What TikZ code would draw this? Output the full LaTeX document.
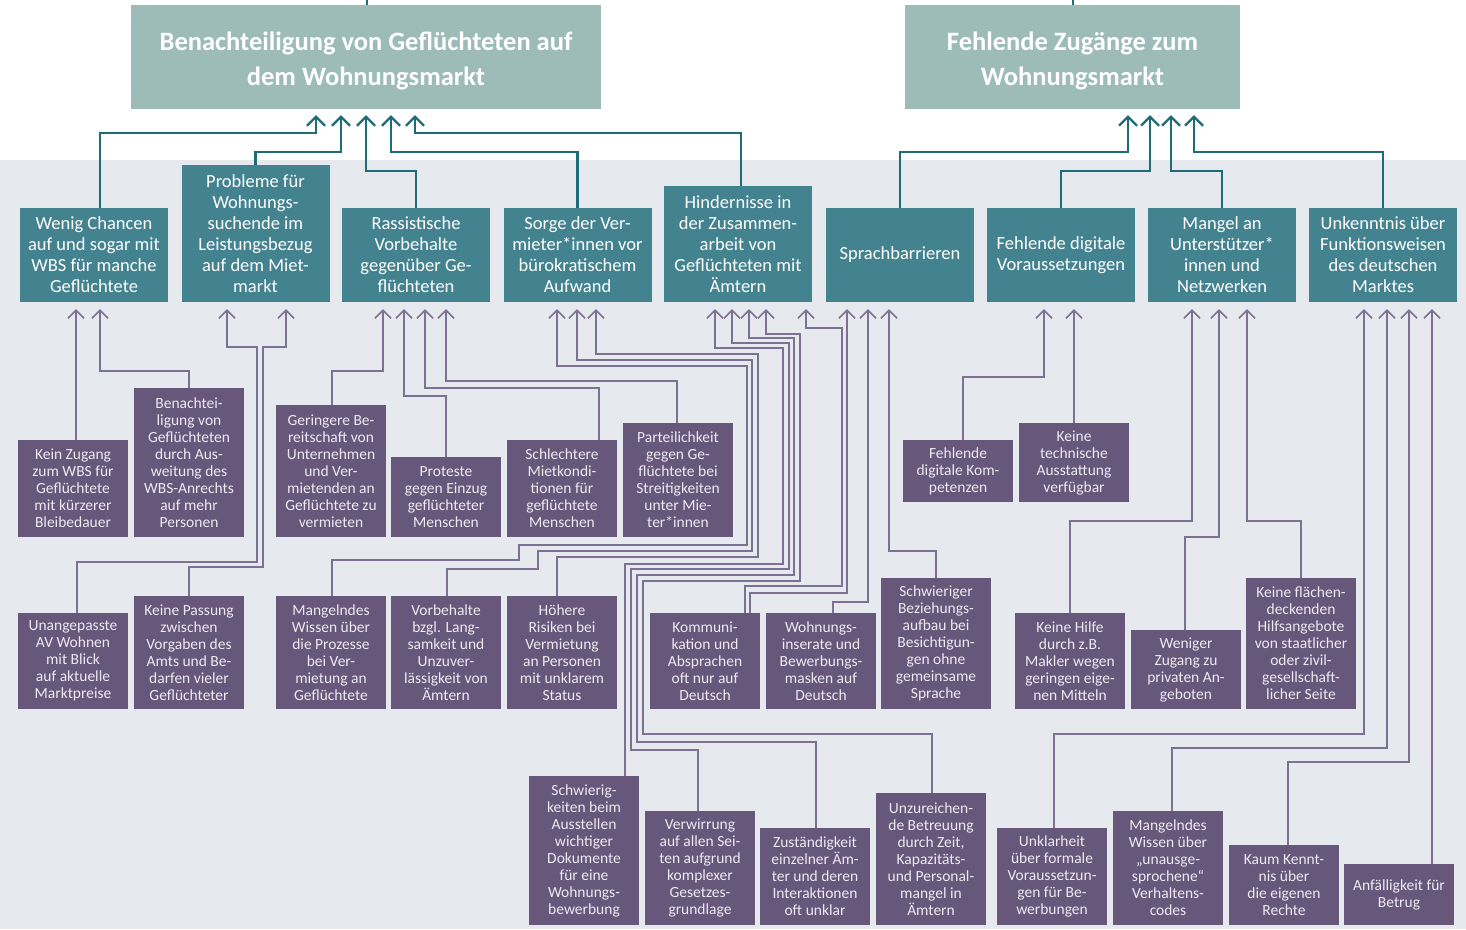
\documentclass[tikz,border=0pt]{standalone}
\usepackage{fontspec}
\setmainfont{Carlito}
\usetikzlibrary{arrows.meta}
\definecolor{topfill}{HTML}{9DBCB7}
\definecolor{tealfill}{HTML}{43828F}
\definecolor{purpfill}{HTML}{67577A}
\definecolor{bggray}{HTML}{E6E9EE}
\definecolor{tline}{HTML}{1F6B78}
\definecolor{pline}{HTML}{7E7093}
\definecolor{ptext}{HTML}{EEEAF2}
\begin{document}
\begin{tikzpicture}[x=1pt,y=-1pt,
 topbox/.style={fill=topfill, inner sep=0pt},
 toptext/.style={text=white, font=\fontsize{26.5}{35}\selectfont\bfseries, align=center, inner sep=0pt},
 tbox/.style={fill=tealfill, text=white, font=\fontsize{18.5}{21}\selectfont, align=center, inner sep=0pt, minimum width=148pt},
 pbox/.style={fill=purpfill, text=ptext, font=\fontsize{15.5}{17}\selectfont, align=center, inner sep=0pt, minimum width=110pt},
 tarr/.style={draw=tline, line width=2.2pt, -{Straight Barb[length=9pt,width=18pt]}, shorten >=6pt},
 tlin/.style={draw=tline, line width=2.2pt},
 parr/.style={draw=pline, line width=1.6pt, -{Straight Barb[length=8pt,width=16pt]}, shorten >=7pt}]
\useasboundingbox (0,0) rectangle (1466,929);
\fill[white] (0,0) rectangle (1466,929);
\fill[bggray] (0,160) rectangle (1466,929);

% top boxes
\node[topbox, minimum width=470pt, minimum height=104pt] (tA) at (366,57) {};
\node[toptext] (tAtext) at (366,61) {Benachteiligung von Geflüchteten auf\\dem Wohnungsmarkt};
\node[topbox, minimum width=335pt, minimum height=104pt] (tB) at (1072.5,57) {};
\node[toptext] (tBtext) at (1072.5,61) {Fehlende Zugänge zum\\Wohnungsmarkt};
\coordinate (topA) at (367,0);
\coordinate (topB) at (1073,0);
\draw[tlin] (tA.north -| 367,0) -- (topA);
\draw[tlin] (tB.north -| 1073,0) -- (topB);

% teal boxes
\node[tbox, minimum height=94pt] (wenig) at (94,255) {Wenig Chancen\\auf und sogar mit\\WBS für manche\\Geflüchtete};
\node[tbox, minimum height=137pt] (probl) at (255.5,233.5) {Probleme für\\Wohnungs-\\suchende im\\Leistungsbezug\\auf dem Miet-\\markt};
\node[tbox, minimum height=94pt] (rass) at (416,255) {Rassistische\\Vorbehalte\\gegenüber Ge-\\flüchteten};
\node[tbox, minimum height=94pt] (sorge) at (577.5,255) {Sorge der Ver-\\mieter*innen vor\\bürokratischem\\Aufwand};
\node[tbox, minimum height=116pt] (hind) at (738,244) {Hindernisse in\\der Zusammen-\\arbeit von\\Geflüchteten mit\\Ämtern};
\node[tbox, minimum height=94pt] (sprach) at (900,255) {Sprachbarrieren};
\node[tbox, minimum height=94pt] (digi) at (1061,255) {Fehlende digitale\\Voraussetzungen};
\node[tbox, minimum height=94pt] (mangel) at (1222,255) {Mangel an\\Unterstützer*\\innen und\\Netzwerken};
\node[tbox, minimum height=94pt] (unk) at (1383,255) {Unkenntnis über\\Funktionsweisen\\des deutschen\\Marktes};

% teal connectors
\draw[tarr] (wenig.north -| 100,0) |- (316,133) -- (tA.south -| 316,0);
\draw[tarr] (probl.north) |- (341,152) -- (tA.south -| 341,0);
\draw[tarr] (rass.north) |- (366,171) -- (tA.south -| 366,0);
\draw[tarr] (sorge.north) |- (391,152) -- (tA.south -| 391,0);
\draw[tarr] (hind.north -| 741,0) |- (415,133) -- (tA.south -| 415,0);
\draw[tarr] (sprach.north) |- (1128,152) -- (tB.south -| 1128,0);
\draw[tarr] (digi.north) |- (1150,171) -- (tB.south -| 1150,0);
\draw[tarr] (mangel.north) |- (1171,171) -- (tB.south -| 1171,0);
\draw[tarr] (unk.north) |- (1194,152) -- (tB.south -| 1194,0);

% purple boxes row A
\node[pbox, minimum height=97pt] (kein) at (73,488.5) {Kein Zugang\\zum WBS für\\Geflüchtete\\mit kürzerer\\Bleibedauer};
\node[pbox, minimum height=149pt] (benw) at (189,462.5) {Benachtei-\\ligung von\\Geflüchteten\\durch Aus-\\weitung des\\WBS-Anrechts\\auf mehr\\Personen};
\node[pbox, minimum height=132pt] (ger) at (331,471) {Geringere Be-\\reitschaft von\\Unternehmen\\und Ver-\\mietenden an\\Geflüchtete zu\\vermieten};
\node[pbox, minimum height=80pt] (prot) at (446,497) {Proteste\\gegen Einzug\\geflüchteter\\Menschen};
\node[pbox, minimum height=97pt] (schl) at (562,488.5) {Schlechtere\\Mietkondi-\\tionen für\\geflüchtete\\Menschen};
\node[pbox, minimum height=114pt] (part) at (678,480) {Parteilichkeit\\gegen Ge-\\flüchtete bei\\Streitigkeiten\\unter Mie-\\ter*innen};
\node[pbox, minimum height=62pt] (fdk) at (958,471) {Fehlende\\digitale Kom-\\petenzen};
\node[pbox, minimum height=79pt] (ktech) at (1074,462.5) {Keine\\technische\\Ausstattung\\verfügbar};

% row B
\node[pbox, minimum height=96pt] (unang) at (73,661) {Unangepasste\\AV Wohnen\\mit Blick\\auf aktuelle\\Marktpreise};
\node[pbox, minimum height=113pt] (pass) at (189,652.5) {Keine Passung\\zwischen\\Vorgaben des\\Amts und Be-\\darfen vieler\\Geflüchteter};
\node[pbox, minimum height=113pt] (mwp) at (331,652.5) {Mangelndes\\Wissen über\\die Prozesse\\bei Ver-\\mietung an\\Geflüchtete};
\node[pbox, minimum height=113pt] (vorb) at (446,652.5) {Vorbehalte\\bzgl. Lang-\\samkeit und\\Unzuver-\\lässigkeit von\\Ämtern};
\node[pbox, minimum height=113pt] (hoeh) at (562,652.5) {Höhere\\Risiken bei\\Vermietung\\an Personen\\mit unklarem\\Status};
\node[pbox, minimum height=96pt] (komm) at (705,661) {Kommuni-\\kation und\\Absprachen\\oft nur auf\\Deutsch};
\node[pbox, minimum height=96pt] (inser) at (821,661) {Wohnungs-\\inserate und\\Bewerbungs-\\masken auf\\Deutsch};
\node[pbox, minimum height=131pt] (bez) at (936,643.5) {Schwieriger\\Beziehungs-\\aufbau bei\\Besichtigun-\\gen ohne\\gemeinsame\\Sprache};
\node[pbox, minimum height=96pt] (hilfe) at (1070,661) {Keine Hilfe\\durch z.B.\\Makler wegen\\geringen eige-\\nen Mitteln};
\node[pbox, minimum height=79pt] (wenz) at (1186,669.5) {Weniger\\Zugang zu\\privaten An-\\geboten};
\node[pbox, minimum height=131pt] (flae) at (1301,643.5) {Keine flächen-\\deckenden\\Hilfsangebote\\von staatlicher\\oder zivil-\\gesellschaft-\\licher Seite};

% row C
\node[pbox, minimum height=149pt] (aus) at (584,850.5) {Schwierig-\\keiten beim\\Ausstellen\\wichtiger\\Dokumente\\für eine\\Wohnungs-\\bewerbung};
\node[pbox, minimum height=114pt] (verw) at (700,868) {Verwirrung\\auf allen Sei-\\ten aufgrund\\komplexer\\Gesetzes-\\grundlage};
\node[pbox, minimum height=97pt] (zust) at (815,876.5) {Zuständigkeit\\einzelner Äm-\\ter und deren\\Interaktionen\\oft unklar};
\node[pbox, minimum height=132pt] (betr) at (931,859) {Unzureichen-\\de Betreuung\\durch Zeit,\\Kapazitäts-\\und Personal-\\mangel in\\Ämtern};
\node[pbox, minimum height=97pt] (unkl) at (1052,876.5) {Unklarheit\\über formale\\Voraussetzun-\\gen für Be-\\werbungen};
\node[pbox, minimum height=114pt] (mwu) at (1168,868) {Mangelndes\\Wissen über\\„unausge-\\sprochene“\\Verhaltens-\\codes};
\node[pbox, minimum height=80pt] (kaum) at (1284,885) {Kaum Kennt-\\nis über\\die eigenen\\Rechte};
\node[pbox, minimum height=61pt] (anf) at (1399,894.5) {Anfälligkeit für\\Betrug};

% purple connectors: Wenig Chancen
\draw[parr] (kein.north -| 76,0) -- (wenig.south -| 76,0);
\draw[parr] (benw.north) |- (100,371) -- (wenig.south -| 100,0);
% Probleme
\draw[parr] (unang.north -| 77,0) |- (257,562) |- (227,347) -- (probl.south -| 227,0);
\draw[parr] (pass.north) |- (263,567) |- (286,347) -- (probl.south -| 286,0);
% Rassistische
\draw[parr] (ger.north -| 332,0) |- (383,371) -- (rass.south -| 383,0);
\draw[parr] (prot.north) |- (404,396) -- (rass.south -| 404,0);
\draw[parr] (schl.north -| 599,0) |- (425,388) -- (rass.south -| 425,0);
\draw[parr] (part.north -| 677,0) |- (446,381) -- (rass.south -| 446,0);
% Sorge
\draw[parr] (mwp.north -| 332,0) |- (519,560) |- (747,545) |- (557,366) -- (sorge.south -| 557,0);
\draw[parr] (vorb.north -| 447,0) |- (538,569) |- (752,551) |- (577,360) -- (sorge.south -| 577,0);
\draw[parr] (hoeh.north -| 557,0) |- (758,557) |- (596,354) -- (sorge.south -| 596,0);
% Hindernisse
\draw[parr] (aus.north -| 625,0) |- (783,564) |- (715,348) -- (hind.south -| 715,0);
\draw[parr] (verw.north -| 698,0) |- (631,750) |- (789,569) |- (732,343) -- (hind.south -| 732,0);
\draw[parr] (zust.north -| 816,0) |- (637,742) |- (794,575) |- (749,338) -- (hind.south -| 749,0);
\draw[parr] (betr.north -| 932,0) |- (643,734) |- (800,581) |- (766,334) -- (hind.south -| 766,0);
\draw[parr] (komm.north -| 745,0) |- (842,586) |- (806,328) -- (hind.south -| 806,0);
% Sprachbarrieren
\draw[parr] (komm.north -| 750,0) |- (847,593) -- (sprach.south -| 847,0);
\draw[parr] (inser.north -| 833,0) |- (868,602) -- (sprach.south -| 868,0);
\draw[parr] (bez.north) |- (889,551) -- (sprach.south -| 889,0);
% Fehlende digitale
\draw[parr] (fdk.north -| 963,0) |- (1044,377) -- (digi.south -| 1044,0);
\draw[parr] (ktech.north) -- (digi.south -| 1074,0);
% Mangel
\draw[parr] (hilfe.north) |- (1192,521) -- (mangel.south -| 1192,0);
\draw[parr] (wenz.north -| 1185,0) |- (1219,537) -- (mangel.south -| 1219,0);
\draw[parr] (flae.north) |- (1247,521) -- (mangel.south -| 1247,0);
% Unkenntnis
\draw[parr] (unkl.north -| 1054,0) |- (1364,734) -- (unk.south -| 1364,0);
\draw[parr] (mwu.north -| 1172,0) |- (1387,748) -- (unk.south -| 1387,0);
\draw[parr] (kaum.north -| 1288,0) |- (1409,762) -- (unk.south -| 1409,0);
\draw[parr] (anf.north -| 1432,0) -- (unk.south -| 1432,0);
\end{tikzpicture}
\end{document}
